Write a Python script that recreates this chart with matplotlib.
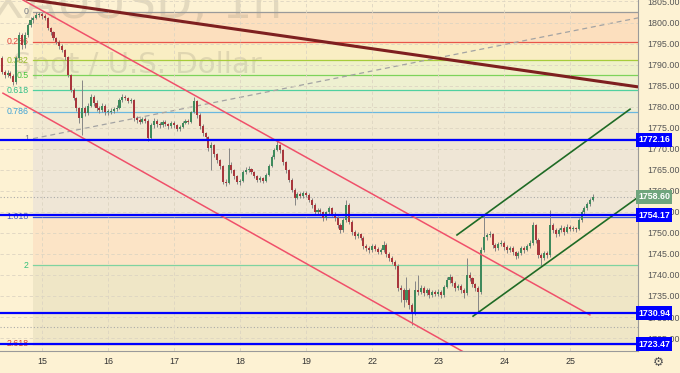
import numpy as np
import matplotlib
matplotlib.use('Agg')
import matplotlib.pyplot as plt

# XAUUSD 1h, bar index 0 = first bar of the 15th (23 bars per session)
first_open = 1793.5
closes = [
    1791.6, 1788.2, 1787.5, 1788.0, 1787.3, 1785.9, 1791.6, 1797.0, 1794.7, 1797.0,
    1799.4, 1800.6, 1801.1, 1801.8, 1802.0,
    # 15
    1801.5, 1801.1, 1798.7, 1797.7, 1796.3, 1795.4, 1794.4, 1793.5, 1791.8, 1787.5,
    1784.0, 1782.1, 1779.7, 1777.3, 1779.7, 1778.5, 1780.2, 1782.3, 1780.9, 1779.7,
    1779.2, 1780.2, 1778.7,
    # 16
    1778.7, 1779.0, 1779.4, 1779.7, 1781.6, 1782.3, 1782.1, 1781.3, 1781.6, 1777.3,
    1776.8, 1776.4, 1777.1, 1776.6, 1772.5, 1775.6, 1776.6, 1775.9, 1775.6, 1776.4,
    1775.9, 1775.4, 1776.1,
    # 17
    1775.6, 1774.7, 1775.2, 1776.1, 1776.6, 1776.4, 1778.7, 1781.3, 1778.0, 1775.4,
    1773.7, 1772.8, 1770.2, 1770.9, 1768.7, 1767.3, 1765.9, 1762.1, 1761.9, 1766.1,
    1764.9, 1763.5, 1762.1,
    # 18
    1762.3, 1764.5, 1764.9, 1765.2, 1764.5, 1763.5, 1762.6, 1763.0, 1762.3, 1763.8,
    1765.9, 1768.0, 1769.7, 1770.9, 1769.7, 1766.8, 1764.9, 1762.6, 1760.2, 1758.3,
    1759.2, 1758.8, 1759.5,
    # 19
    1759.0, 1757.8, 1756.6, 1754.9, 1755.4, 1754.9, 1753.5, 1754.9, 1755.9, 1754.5,
    1753.5, 1751.9, 1750.7, 1753.1, 1756.6, 1752.6, 1750.2, 1749.3, 1749.7, 1748.8,
    1746.9, 1746.4, 1745.9,
    # 22
    1746.9, 1746.2, 1745.4, 1745.9, 1747.1, 1745.0, 1744.0, 1743.1, 1742.1, 1736.9,
    1736.4, 1734.0, 1736.4, 1732.8, 1731.2, 1736.4, 1735.9, 1736.9, 1735.7, 1736.4,
    1735.2, 1735.9, 1735.5,
    # 23
    1735.9, 1735.2, 1737.1, 1738.8, 1739.5, 1738.1, 1736.9, 1737.4, 1736.4, 1735.7,
    1740.0, 1739.3, 1737.8, 1736.9, 1735.9, 1745.9, 1749.0, 1749.5, 1749.7, 1747.1,
    1746.4, 1747.4, 1747.6,
    # 24
    1746.6, 1745.9, 1746.4, 1745.4, 1744.5, 1745.2, 1746.4, 1745.9, 1746.9, 1747.6,
    1751.9, 1748.3, 1744.7, 1744.0, 1745.2, 1744.7, 1751.9, 1750.7, 1749.7, 1750.7,
    1751.2, 1750.2, 1751.4,
    # 25
    1750.9, 1751.2, 1750.9, 1753.1, 1754.9, 1755.9, 1756.8, 1757.8, 1758.6,
]
highs = [
    1794.0, 1792.0, 1788.8, 1788.8, 1788.5, 1787.8, 1792.0, 1797.8, 1797.5, 1797.7,
    1800.0, 1801.2, 1801.6, 1802.4, 1802.5,
    1802.5, 1802.0, 1801.4, 1799.0, 1798.0, 1796.6, 1795.8, 1794.8, 1793.8, 1792.0,
    1787.8, 1784.4, 1782.4, 1780.0, 1786.3, 1780.2, 1780.8, 1783.0, 1782.8, 1781.6,
    1780.2, 1780.8, 1780.6,
    1779.4, 1779.6, 1780.0, 1780.4, 1782.0, 1783.0, 1782.8, 1782.4, 1782.0, 1781.8,
    1777.8, 1777.3, 1777.6, 1777.5, 1777.0, 1776.0, 1777.2, 1777.0, 1776.4, 1776.9,
    1776.8, 1776.2, 1776.6,
    1776.5, 1775.9, 1775.6, 1776.5, 1777.0, 1777.0, 1779.0, 1782.3, 1781.6, 1778.4,
    1775.8, 1774.0, 1773.0, 1771.6, 1771.2, 1769.0, 1767.6, 1766.2, 1762.8, 1770.2,
    1766.8, 1765.2, 1763.8,
    1762.9, 1765.0, 1765.6, 1765.9, 1765.4, 1764.8, 1763.8, 1763.5, 1763.3, 1764.2,
    1766.4, 1768.6, 1770.2, 1771.8, 1771.2, 1770.0, 1767.2, 1765.2, 1763.0, 1760.6,
    1759.8, 1759.6, 1760.0,
    1759.9, 1759.4, 1758.2, 1757.0, 1755.9, 1755.8, 1755.2, 1755.3, 1756.4, 1756.2,
    1754.9, 1753.9, 1752.3, 1753.6, 1757.8, 1757.0, 1753.0, 1750.6, 1750.2, 1750.0,
    1749.2, 1747.4, 1746.9,
    1747.4, 1747.3, 1746.6, 1746.3, 1748.0, 1747.6, 1745.4, 1744.4, 1743.5, 1742.5,
    1737.6, 1737.0, 1739.5, 1737.0, 1733.4, 1738.5, 1740.0, 1737.6, 1737.4, 1736.9,
    1736.8, 1736.4, 1736.4,
    1736.6, 1736.4, 1737.6, 1739.4, 1740.2, 1739.8, 1738.5, 1737.9, 1737.8, 1736.8,
    1744.0, 1740.6, 1739.6, 1738.2, 1737.4, 1746.6, 1754.2, 1750.0, 1750.4, 1750.0,
    1747.6, 1747.9, 1748.3,
    1748.0, 1747.0, 1746.9, 1746.8, 1745.8, 1745.6, 1746.9, 1746.8, 1747.4, 1748.2,
    1752.6, 1752.2, 1748.8, 1745.2, 1745.8, 1745.6, 1755.4, 1752.4, 1751.2, 1751.2,
    1751.8, 1751.6, 1752.0,
    1751.8, 1751.6, 1751.5, 1753.6, 1755.4, 1756.5, 1757.4, 1758.3, 1759.2,
]
lows = [
    1791.0, 1787.8, 1786.9, 1787.0, 1786.7, 1785.1, 1785.5, 1791.0, 1793.6, 1794.0,
    1796.6, 1799.0, 1800.0, 1800.8, 1801.2,
    1800.9, 1800.5, 1798.2, 1797.0, 1795.8, 1794.8, 1793.8, 1793.0, 1791.2, 1787.0,
    1783.4, 1781.5, 1779.0, 1776.2, 1773.2, 1777.8, 1778.0, 1779.8, 1780.2, 1779.0,
    1778.6, 1778.8, 1778.0,
    1778.0, 1778.2, 1778.6, 1779.0, 1779.4, 1781.2, 1781.6, 1780.8, 1780.9, 1776.6,
    1776.0, 1775.8, 1776.0, 1776.0, 1771.8, 1772.0, 1775.0, 1775.2, 1775.0, 1775.2,
    1775.3, 1774.8, 1775.0,
    1775.0, 1774.2, 1774.3, 1774.9, 1775.8, 1775.9, 1776.0, 1778.4, 1777.4, 1774.8,
    1773.1, 1772.0, 1769.5, 1764.9, 1768.0, 1766.6, 1765.2, 1761.5, 1761.2, 1761.6,
    1764.3, 1762.9, 1761.5,
    1761.4, 1762.0, 1764.0, 1764.4, 1764.0, 1763.0, 1762.0, 1762.2, 1761.8, 1762.0,
    1763.5, 1765.6, 1767.6, 1769.4, 1769.0, 1766.2, 1764.3, 1762.0, 1759.6, 1756.6,
    1758.0, 1758.2, 1758.4,
    1758.5, 1757.3, 1756.0, 1754.2, 1754.4, 1754.2, 1752.8, 1753.1, 1754.6, 1753.9,
    1752.9, 1751.2, 1750.0, 1750.2, 1752.6, 1752.0, 1749.6, 1748.6, 1748.8, 1748.2,
    1746.2, 1745.8, 1745.3,
    1745.4, 1745.6, 1744.9, 1745.0, 1745.5, 1744.3, 1743.4, 1742.5, 1741.5, 1736.2,
    1733.5, 1732.4, 1733.5, 1732.0, 1728.1, 1730.4, 1735.2, 1735.4, 1735.0, 1735.2,
    1734.6, 1734.8, 1734.9,
    1735.0, 1734.5, 1734.8, 1736.8, 1738.2, 1737.4, 1736.2, 1736.4, 1735.8, 1734.4,
    1735.3, 1738.6, 1737.2, 1736.2, 1731.2, 1735.4, 1745.4, 1748.4, 1749.0, 1746.4,
    1745.8, 1746.0, 1746.9,
    1746.0, 1745.3, 1745.4, 1744.8, 1743.9, 1744.0, 1744.8, 1745.3, 1745.6, 1746.4,
    1747.0, 1747.6, 1744.0, 1742.1, 1743.5, 1744.0, 1744.2, 1750.0, 1749.0, 1749.3,
    1750.2, 1749.6, 1749.9,
    1750.4, 1750.4, 1750.3, 1750.6, 1752.6, 1754.5, 1755.4, 1756.5, 1757.6,
]
first_bar = -15

# days shown on the time axis
day_labels = ['15', '16', '17', '18', '19', '22', '23', '24', '25']
bars_per_day = 23

# fibonacci retracement (drawn from 1 -> 0)
fib_ratios = [0, 0.236, 0.382, 0.5, 0.618, 0.786, 1, 1.618, 2, 2.618]
fib_price0 = 1802.5
fib_price1 = 1772.4
fib_line_cols = ['#9a9a9a', '#e8554a', '#a6cc3a', '#7dd35a', '#4fd0a0', '#6ab8e0',
                 '#9a9a9a', '#3a5ad8', '#7fd3a0', '#e8604a']
fib_text_cols = ['#787b86', '#e0403a', '#9abc2c', '#44c23a', '#2fbf88', '#3ea2d6',
                 '#787b86', '#4a5fc8', '#33bf78', '#e0402a']
fib_fills = ['#fcdfbe', '#f9eec3', '#eff1c9', '#eef0d0', '#eeedd4', '#f1e9d2',
             '#efe6d6', '#fce4c6', '#efe6c6']

# horizontal support / resistance levels
blue_levels = [1772.16, 1754.17, 1730.94, 1723.47]
last_price = 1758.60
dotted_level = 1727.6

# trend lines: (x1, y1, x2, y2) in bar index / price
maroon_line = (-15.0, 1806.5, 207.7, 1784.7)
red_upper = (-6.6, 1805.35, 190.9, 1730.5)
red_lower = (-13.6, 1783.2, 150.0, 1720.5)
green_upper = (144.6, 1749.5, 204.9, 1779.4)
green_lower = (150.2, 1730.2, 210.0, 1759.6)
fib_dash = (-3.1, 1772.4, 218.0, 1802.5)

bg = '#fdf2d3'
up_col = '#3f8a5c'
dn_col = '#a8363c'
wick_col = '#858585'

fig = plt.figure(figsize=(6.8, 3.73), dpi=100, facecolor=bg)
ax = fig.add_axes([0, 22 / 373, 638 / 680, 351 / 373])
ax.set_facecolor(bg)

xlo, xhi = -14.63, 207.67
ylo, yhi = 1721.92, 1805.35
ax.set_xlim(xlo, xhi)
ax.set_ylim(ylo, yhi)

# grid
yt = np.arange(1725, 1806, 5)
xt = np.arange(len(day_labels)) * bars_per_day
ax.set_yticks(yt)
ax.set_xticks(xt)
ax.grid(True, ls=(0, (4, 3)), color='#ddd5c2', lw=0.6, zorder=0.6)

# fib fills, lines, labels
fib_x0 = -3.1
fib_prices = [fib_price0 - r * (fib_price0 - fib_price1) for r in fib_ratios]
for k in range(len(fib_prices) - 1):
    ax.fill_between([fib_x0, xhi], fib_prices[k + 1], fib_prices[k],
                    color=fib_fills[k], lw=0, zorder=0.5)
for k, p in enumerate(fib_prices):
    ax.plot([fib_x0, xhi], [p, p], color=fib_line_cols[k], lw=0.9, zorder=1)
    lab = ('%g' % fib_ratios[k])
    ax.text(fib_x0 - 1.5, p, lab, color=fib_text_cols[k], fontsize=6.3,
            family='Liberation Sans', ha='right', va='center', zorder=2)
ax.plot(fib_dash[::2], fib_dash[1::2], color='#a3a3a3', lw=0.9,
        ls=(0, (4, 3)), zorder=1.2)

# watermark
ax.text(0.215, 0.95, 'XAUUSD, 1h', transform=ax.transAxes, fontsize=34,
        color='#8a8474', alpha=0.22, ha='center', va='baseline', zorder=0.8)
ax.text(0.215, 0.792, 'Spot / U.S. Dollar', transform=ax.transAxes, fontsize=21,
        color='#8a8474', alpha=0.22, ha='center', va='baseline', zorder=0.8)

# dotted price lines
ax.axhline(last_price, color='#a9a9a9', lw=0.8, ls=(0, (1, 2)), zorder=1)
ax.axhline(dotted_level, color='#a9a9a9', lw=0.8, ls=(0, (1, 2)), zorder=1)

# candles
closes = np.array(closes)
highs = np.array(highs)
lows = np.array(lows)
opens = np.concatenate([[first_open], closes[:-1]])
xs = np.arange(first_bar, first_bar + len(closes))
up = closes >= opens
ax.vlines(xs, lows, highs, color=wick_col, lw=0.7, zorder=3)
body = np.abs(closes - opens)
body = np.where(body < 0.15, 0.15, body)
ax.bar(xs[up], body[up], bottom=opens[up], width=0.72, color=up_col, lw=0, zorder=3.5)
ax.bar(xs[~up], body[~up], bottom=closes[~up], width=0.72, color=dn_col, lw=0, zorder=3.5)

# trend lines
ax.plot(maroon_line[::2], maroon_line[1::2], color='#7e1f1f', lw=2.2, zorder=4,
        solid_capstyle='butt')
for ln in (red_upper, red_lower):
    ax.plot(ln[::2], ln[1::2], color='#f0506a', lw=1.1, zorder=4)
for ln in (green_upper, green_lower):
    ax.plot(ln[::2], ln[1::2], color='#1f6b25', lw=1.2, zorder=4)

# blue levels
for lv in blue_levels:
    ax.axhline(lv, color='#0000ff', lw=1.6, zorder=4.5)

# axes styling
for s in ('top', 'left'):
    ax.spines[s].set_visible(False)
ax.spines['right'].set_color('#9a9a9a')
ax.spines['bottom'].set_color('#9a9a9a')
ax.spines['right'].set_linewidth(0.8)
ax.spines['bottom'].set_linewidth(0.8)
ax.yaxis.tick_right()
ax.set_yticklabels(['%.2f' % v for v in yt])
ax.set_xticklabels(day_labels)
ax.tick_params(axis='y', length=0, pad=7, labelsize=6.4, colors='#555555')
ax.tick_params(axis='x', length=0, pad=4, labelsize=6.4, colors='#333333')
for t in ax.get_yticklabels() + ax.get_xticklabels():
    t.set_family('Liberation Sans')

# price labels on the axis
def price_tag(p, fc, tc='white'):
    ax.text(1.0, p, '%.2f' % p, transform=ax.get_yaxis_transform(),
            fontsize=6.4, family='Liberation Sans', weight='bold', color=tc,
            ha='left', va='center', zorder=10, clip_on=False,
            bbox=dict(boxstyle='square,pad=0.28', fc=fc, ec='none'))

for lv in blue_levels:
    price_tag(lv, '#0000ff')
price_tag(last_price, '#6fa57d')

# gear icon
fig.text(658 / 680, 11 / 373, '\u2699', fontsize=9, color='#555555',
         ha='center', va='center', family='DejaVu Sans')

fig.savefig('out.png', dpi=100, facecolor=bg)
